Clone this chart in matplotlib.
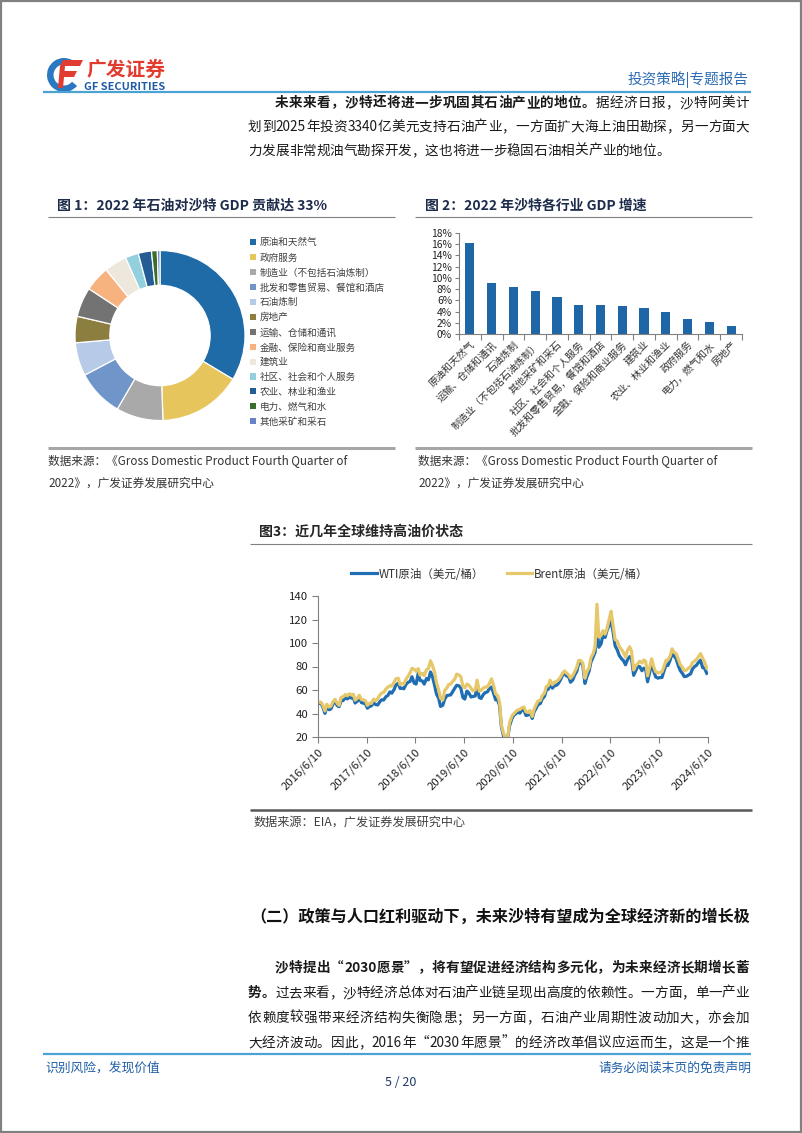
import matplotlib
matplotlib.use('Agg')
import matplotlib.pyplot as plt
from matplotlib.font_manager import FontProperties, findfont, get_font
from matplotlib.patches import Rectangle, Wedge, Polygon
from matplotlib.ticker import FuncFormatter
import numpy as np
import pandas as pd

W, H = 802, 1133
CJK = ['Noto Sans CJK SC', 'DejaVu Sans']
plt.rcParams['font.family'] = CJK

# ---------------- data ----------------
pie_labels = ['原油和天然气', '政府服务', '制造业（不包括石油炼制）', '批发和零售贸易、餐馆和酒店',
              '石油炼制', '房地产', '运输、仓储和通讯', '金融、保险和商业服务', '建筑业',
              '社区、社会和个人服务', '农业、林业和渔业', '电力、燃气和水', '其他采矿和采石']
pie_values = [33.5, 15.8, 8.9, 8.9, 6.3, 5.0, 5.6, 4.8, 4.3, 2.5, 2.5, 1.1, 0.5]
pie_colors = ['#1F6BA8', '#E6C55C', '#A9A9A9', '#7096C9', '#B7CBE8', '#8C7E3E', '#737373',
              '#F6B27F', '#EEE8DC', '#93D0DE', '#245C96', '#3A6E2A', '#6A83C6']

bar_labels = ['原油和天然气', '运输、仓储和通讯', '石油炼制', '制造业（不包括石油炼制）',
              '其他采矿和采石', '社区、社会和个人服务', '批发和零售贸易，餐馆和酒店',
              '金融、保险和商业服务', '建筑业', '农业、林业和渔业', '政府服务',
              '电力，燃气和水', '房地产']
bar_values = [16.2, 9.1, 8.3, 7.7, 6.6, 5.2, 5.2, 5.0, 4.6, 3.9, 2.7, 2.2, 1.4]
bar_ticks = [0, 2, 4, 6, 8, 10, 12, 14, 16, 18]

oil_start = '2016-06-15'   # semi-monthly readings
wti = [48.5, 48.9, 45.9, 40.1, 45.7, 43.2, 43.9, 48.2, 50.4, 46.7, 45.8, 51.1, 51.0,
       53.7, 52.4, 53.9, 53.1, 54.0, 48.9, 50.6, 53.2, 49.3, 48.8, 48.3, 44.5,
       46.0, 46.5, 49.2, 47.6, 47.3, 49.9, 51.7, 51.5, 54.3, 55.3, 58.4, 57.3,
       60.4, 64.3, 65.8, 61.3, 61.6, 61.0, 64.9, 66.5, 67.3, 71.3, 65.8, 65.1,
       74.1, 68.1, 67.7, 65.0, 69.8, 68.6, 75.3, 71.8, 63.7, 56.5, 52.9, 46.0,
       47.0, 52.1, 55.3, 55.6, 55.8, 58.5, 61.6, 64.0, 63.6, 62.0, 53.5, 52.3,
       59.1, 57.6, 54.0, 54.5, 54.9, 62.9, 53.6, 52.8, 56.2, 57.8, 58.4, 60.9,
       62.5, 57.8, 51.6, 52.1, 46.8, 28.7, 20.3, 18.0, 19.0, 29.4, 35.4, 38.4,
       39.8, 41.2, 40.3, 42.9, 42.8, 38.3, 38.7, 40.9, 35.8, 41.3, 44.6, 47.6,
       48.5, 52.4, 54.6, 60.1, 60.6, 65.4, 61.5, 63.5, 64.0, 65.4, 68.8, 72.1,
       75.2, 72.0, 71.3, 66.6, 68.6, 72.6, 75.9, 82.3, 83.9, 80.8, 65.6, 71.0,
       76.1, 83.8, 88.2, 92.1, 115.0, 96.4, 99.3, 106.9, 104.7, 110.5, 115.3, 119.0,
       108.4, 97.6, 93.9, 89.4, 86.6, 85.1, 81.5, 85.6, 88.4, 86.9, 72.5, 76.1,
       80.3, 79.9, 76.4, 78.6, 77.7, 67.0, 75.7, 82.5, 75.7, 71.1, 70.1, 70.6,
       70.6, 75.8, 81.4, 80.9, 85.6, 91.0, 88.8, 86.7, 80.5, 76.6, 74.1, 71.4,
       71.7, 72.6, 73.8, 78.0, 79.9, 81.0, 83.7, 85.4, 79.0, 78.6, 74.2]
brent = [49.5, 49.7, 47.4, 42.2, 47.9, 45.5, 46.2, 50.2, 52.0, 48.6, 46.9, 53.9, 54.1,
         56.2, 55.0, 56.8, 55.7, 56.4, 51.3, 53.0, 55.5, 51.8, 51.8, 50.7, 46.9,
         48.8, 48.6, 52.3, 50.8, 52.8, 55.5, 57.5, 57.8, 60.9, 62.4, 63.6, 63.3,
         66.6, 69.5, 70.0, 64.5, 65.5, 65.1, 69.3, 71.6, 74.7, 78.4, 77.6, 75.9,
         78.2, 72.6, 74.2, 72.2, 77.4, 78.1, 84.9, 81.2, 74.9, 66.1, 60.3, 53.0,
         51.5, 59.5, 61.9, 64.8, 65.0, 67.2, 69.3, 73.5, 72.8, 71.6, 63.0, 61.8,
         65.1, 64.1, 61.5, 59.3, 60.0, 68.4, 59.0, 59.6, 61.7, 62.6, 62.5, 65.4,
         69.5, 64.5, 56.6, 55.4, 50.1, 30.0, 22.8, 18.5, 19.5, 31.9, 37.8, 39.7,
         41.6, 43.0, 43.4, 44.9, 45.5, 41.5, 40.9, 42.5, 37.5, 43.6, 47.6, 50.8,
         51.2, 55.1, 57.5, 63.1, 63.7, 68.4, 64.5, 66.6, 67.2, 68.5, 71.0, 74.0,
         76.2, 74.5, 72.9, 70.0, 72.3, 75.5, 79.3, 85.2, 85.0, 82.7, 70.0, 75.3,
         79.0, 87.5, 91.2, 97.0, 133.0, 105.0, 106.5, 110.5, 107.5, 112.0, 120.5, 127.0,
         114.5, 103.0, 101.5, 97.0, 94.5, 92.0, 88.0, 93.5, 96.8, 93.0, 77.0, 80.5,
         82.5, 84.5, 83.0, 85.5, 84.5, 72.0, 80.0, 86.5, 79.5, 75.5, 74.5, 75.0,
         75.5, 79.5, 85.5, 85.5, 89.0, 95.0, 92.0, 91.0, 86.0, 81.5, 79.5, 76.5,
         77.0, 78.5, 80.0, 83.5, 84.5, 86.0, 88.5, 91.0, 87.0, 84.0, 78.5]
oil_tick_dates = ['2016-06-10', '2017-06-10', '2018-06-10', '2019-06-10', '2020-06-10',
                  '2021-06-10', '2022-06-10', '2023-06-10', '2024-06-10']
oil_tick_labels = ['2016/6/10', '2017/6/10', '2018/6/10', '2019/6/10', '2020/6/10',
                   '2021/6/10', '2022/6/10', '2023/6/10', '2024/6/10']
oil_yticks = [20, 40, 60, 80, 100, 120, 140]

# ---------------- figure ----------------
fig = plt.figure(figsize=(W / 100, H / 100), dpi=100)
fig.patch.set_facecolor('white')


def fx(x):
    return x / W


def fy(y):
    return 1 - y / H


_font_cache = {}


def advance(t, size, weight):
    key = weight
    if key not in _font_cache:
        _font_cache[key] = findfont(FontProperties(family='Noto Sans CJK SC', weight=weight))
    f = get_font(_font_cache[key])
    f.set_size(size, 100)
    tot = 0.0
    for c in t:
        g = f.load_char(ord(c))
        tot += g.linearHoriAdvance / 65536.0
    return tot


def fit_text(x0, x1, y, s, weight='normal', color='#222222', size=None):
    if size is None:
        size = 10.0 * (x1 - x0) / advance(s, 10.0, weight)
    fig.text(fx(x0), fy(y), s, fontsize=size, weight=weight, color=color,
             family=CJK, ha='left', va='center')
    return size


BODY = 9.8
BODY_C = '#1a1a1a'


def text_line(x0, y, segs, x1=None, size=BODY, color=BODY_C):
    toks = []
    for s, wt in segs:
        i = 0
        while i < len(s):
            if ord(s[i]) < 128:
                j = i
                while j < len(s) and ord(s[j]) < 128:
                    j += 1
                toks.append((s[i:j], wt))
                i = j
            else:
                toks.append((s[i], wt))
                i += 1
    ws = [advance(t, size, wt) for t, wt in toks]
    gap = 0.0
    if x1 is not None and len(toks) > 1:
        gap = (x1 - x0 - sum(ws)) / (len(toks) - 1)
    x = x0
    for (t, wt), w in zip(toks, ws):
        fig.text(fx(x), fy(y), t, fontsize=size, weight=wt, color=color,
                 family=CJK, ha='left', va='center')
        x += w + gap


# background / decoration axes in pixel coordinates
bg = fig.add_axes([0, 0, 1, 1], zorder=-5)
bg.set_xlim(0, W)
bg.set_ylim(H, 0)
bg.axis('off')
bg.patch.set_alpha(0)


def hline(x0, x1, y, color, lw):
    bg.plot([x0, x1], [y, y], color=color, lw=lw, solid_capstyle='butt')


# page border
bg.add_patch(Rectangle((0.8, 0.8), W - 1.6, H - 1.6, fill=False, ec='#808080', lw=1.6))

# logo
bg.add_patch(Wedge((64, 75), 17, 40, 300, width=6.5, fc='#2A78C2', ec='none'))
bg.add_patch(Polygon([(63, 60), (83, 60), (80, 66), (60, 66)], closed=True, fc='#E23B30', ec='none'))
bg.add_patch(Polygon([(62, 71), (77, 71), (74, 77), (59, 77)], closed=True, fc='#E23B30', ec='none'))
bg.add_patch(Polygon([(60, 66), (65, 66), (63, 88), (58, 88)], closed=True, fc='#E23B30', ec='none'))
fit_text(86, 165, 70, '广发证券', weight='bold', color='#E23B30')
fit_text(84, 165, 86.5, 'GF SECURITIES', weight='bold', color='#1F5BA6')
fit_text(628, 749, 80, '投资策略|专题报告', color='#2E6CB5')
hline(43, 751, 92, '#4BA3D3', 1.6)

# paragraph 1
text_line(275, 103, [('未来来看，沙特还将进一步巩固其石油产业的地位。', 'bold'),
                     ('据经济日报，沙特阿美计', 'normal')], x1=749)
text_line(248, 127, [('划到2025年投资3340亿美元支持石油产业，一方面扩大海上油田勘探，另一方面大', 'normal')], x1=749)
text_line(248, 151, [('力发展非常规油气勘探开发，这也将进一步稳固石油相关产业的地位。', 'normal')])

# ---- figure 1 ----
fit_text(57, 327, 206, '图 1：2022 年石油对沙特 GDP 贡献达 33%', weight='bold', color='#1F2D4D')
hline(48, 395, 216.5, '#808080', 0.8)
hline(48, 395, 448, '#A6A6A6', 2.2)
src_size = fit_text(48, 346, 461, '数据来源：《Gross Domestic Product Fourth Quarter of', color='#333333')
fit_text(48, 0, 483, '2022》，广发证券发展研究中心', color='#333333', size=src_size)

ax_pie = fig.add_axes([fx(75), fy(420.5), 170 / W, 170 / H])
wedges, _ = ax_pie.pie(pie_values, colors=pie_colors, startangle=90, counterclock=False,
                       wedgeprops=dict(width=0.41, edgecolor='white', linewidth=0.9))
ax_pie.set_xlim(-1.0, 1.0)
ax_pie.set_ylim(-1.0, 1.0)
ax_pie.set_aspect('equal')
proxies = [Rectangle((0, 0), 1, 1, fc=c, ec='none') for c in pie_colors]
leg1 = fig.legend(proxies, pie_labels, loc='upper left', bbox_to_anchor=(fx(250), fy(238)),
                  frameon=False, prop=FontProperties(family=CJK, size=6.9),
                  handlelength=0.6, handleheight=0.6, handletextpad=0.45,
                  labelspacing=0.58, borderpad=0, borderaxespad=0)
for t in leg1.get_texts():
    t.set_color('#404040')

# ---- figure 2 ----
fit_text(425, 647, 206, '图 2：2022 年沙特各行业 GDP 增速', weight='bold', color='#1F2D4D')
hline(415, 752, 216.5, '#808080', 0.8)
hline(415, 752, 448, '#A6A6A6', 2.2)
fit_text(418, 0, 461, '数据来源：《Gross Domestic Product Fourth Quarter of', color='#333333', size=src_size)
fit_text(418, 0, 483, '2022》，广发证券发展研究中心', color='#333333', size=src_size)

ax_bar = fig.add_axes([fx(459), fy(334), (742 - 459) / W, (334 - 233) / H])
xpos = np.arange(len(bar_values))
ax_bar.bar(xpos, bar_values, width=0.42, color='#1F66A6')
ax_bar.set_xlim(-0.5, len(bar_values) - 0.5)
ax_bar.set_ylim(0, 18)
ax_bar.set_yticks(bar_ticks)
ax_bar.yaxis.set_major_formatter(FuncFormatter(lambda v, p: f'{v:.0f}%'))
ax_bar.set_xticks(xpos)
ax_bar.set_xticklabels(bar_labels, rotation=45, ha='right', va='top', rotation_mode='anchor',
                       fontsize=7.2, color='#333333')
ax_bar.set_xticks(np.arange(-0.5, len(bar_values)), minor=True)
ax_bar.tick_params(axis='x', which='major', length=0, pad=4)
ax_bar.tick_params(axis='x', which='minor', length=4, color='#808080', width=0.8)
ax_bar.tick_params(axis='y', length=3, color='#808080', width=0.8, labelsize=7.4, pad=2,
                   labelcolor='#222222')
for s in ['top', 'right']:
    ax_bar.spines[s].set_visible(False)
for s in ['left', 'bottom']:
    ax_bar.spines[s].set_color('#808080')
    ax_bar.spines[s].set_linewidth(0.8)
ax_bar.patch.set_alpha(0)

# ---- figure 3 ----
fit_text(259, 463, 532, '图3：近几年全球维持高油价状态', weight='bold', color='#262626')
hline(250, 752, 544, '#808080', 0.8)
hline(250, 752, 810, '#595959', 1.8)
fit_text(253, 465, 822, '数据来源：EIA，广发证券发展研究中心', color='#404040')

ax_line = fig.add_axes([fx(318), fy(737), (708 - 318) / W, (737 - 596) / H])
dates = pd.date_range(oil_start, periods=len(wti), freq='SMS')
l1, = ax_line.plot(dates, wti, color='#1F6DB2', lw=2.3)
l2, = ax_line.plot(dates, brent, color='#E6C76A', lw=2.3)
ax_line.set_ylim(20, 140)
ax_line.set_xlim(pd.Timestamp(oil_tick_dates[0]), pd.Timestamp(oil_tick_dates[-1]))
ax_line.set_yticks(oil_yticks)
ax_line.set_xticks([pd.Timestamp(d) for d in oil_tick_dates])
ax_line.set_xticklabels(oil_tick_labels, rotation=45, ha='right', va='top',
                        rotation_mode='anchor', fontsize=8.2, color='#222222')
ax_line.tick_params(axis='x', length=4, color='#808080', width=0.8, pad=3)
ax_line.tick_params(axis='y', length=4, color='#808080', width=0.8, labelsize=8.2, pad=3,
                    labelcolor='#222222')
for s in ['top', 'right']:
    ax_line.spines[s].set_visible(False)
for s in ['left', 'bottom']:
    ax_line.spines[s].set_color('#808080')
    ax_line.spines[s].set_linewidth(0.8)
ax_line.patch.set_alpha(0)
leg3 = fig.legend([l1, l2], ['WTI原油（美元/桶）', 'Brent原油（美元/桶）'], loc='center',
                  bbox_to_anchor=(fx(500), fy(574)), ncol=2, frameon=False,
                  prop=FontProperties(family=CJK, size=8.3), handlelength=2.2,
                  handletextpad=0.15, columnspacing=2.0, borderpad=0, borderaxespad=0)
for t in leg3.get_texts():
    t.set_color('#333333')

# section heading and paragraph 2
fit_text(250, 749, 917, '（二）政策与人口红利驱动下，未来沙特有望成为全球经济新的增长极',
         weight='bold', color='#111111')
text_line(275, 968, [('沙特提出“2030愿景”，将有望促进经济结构多元化，为未来经济长期增长蓄', 'bold')], x1=749)
text_line(248, 993, [('势。', 'bold'),
                     ('过去来看，沙特经济总体对石油产业链呈现出高度的依赖性。一方面，单一产业', 'normal')], x1=749)
text_line(248, 1018, [('依赖度较强带来经济结构失衡隐患；另一方面，石油产业周期性波动加大，亦会加', 'normal')], x1=749)
text_line(248, 1043, [('大经济波动。因此，2016年“2030年愿景”的经济改革倡议应运而生，这是一个推', 'normal')], x1=749)

# footer
hline(43, 751, 1054, '#4BA3D3', 1.6)
fit_text(45, 160, 1068, '识别风险，发现价值', color='#1F5FA6')
fit_text(598, 751, 1068, '请务必阅读末页的免责声明', color='#1F5FA6')
fig.text(fx(401), fy(1082), '5 / 20', fontsize=9, color='#1F3864', ha='center', va='center',
         family=CJK)

fig.savefig('out.png', dpi=100, facecolor='white')
